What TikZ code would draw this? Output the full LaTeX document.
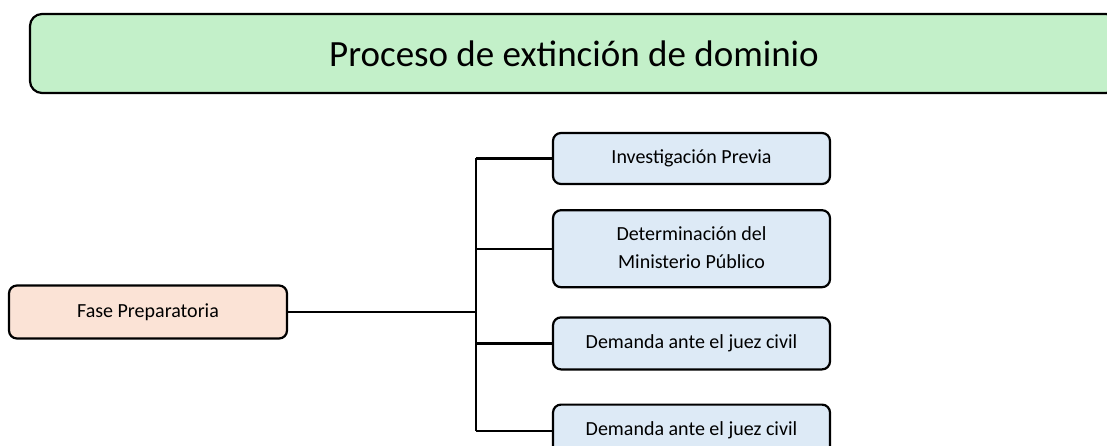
\documentclass[tikz,border=0pt]{standalone}
\usepackage{fontspec}
\setmainfont{Carlito}
\usepackage{tikz}
\usetikzlibrary{positioning, calc}
\definecolor{w_green}{HTML}{C3F0C9}
\definecolor{w_peach}{HTML}{FBE3D6}
\definecolor{w_lightblue}{HTML}{DDEAF6}
\tikzstyle{block} = [rectangle, draw, line width=2.2pt, fill=w_lightblue,
	text centered, rounded corners=8pt, minimum width=277pt, minimum height=52pt,
	font=\fontsize{20}{28}\selectfont]
\tikzstyle{titleblock} = [rectangle, draw, line width=2.2pt, fill=w_green,
	rounded corners=12pt, minimum width=1088pt, minimum height=79pt,
	font=\fontsize{37}{44}\selectfont]
\tikzstyle{link} = [line width=2.2pt]

\begin{document}
\begin{tikzpicture}[x=1pt, y=-1pt, node distance=24pt]
	 \useasboundingbox (0,0) rectangle (1107,446);
	 \clip (0,0) rectangle (1107,446);

	 \node (title) at (574,53.5) [titleblock] {Proceso de extinción de dominio};

	 \node (fase) at (148,312) [block, fill=w_peach, minimum width=278pt, minimum height=53pt] {Fase Preparatoria};

	 \node (previa) at (691.5,158.5) [block, minimum height=51pt] {Investigación Previa};
	 \node[below=24pt of previa] (ministerio) [block, minimum height=77pt] {
		 \begin{tabular}{c}
			 Determinación del \\
			 Ministerio Público
		 \end{tabular}
	 };
	 \node[below=28pt of ministerio] (demanda) [block] {Demanda ante el juez civil};
	 \node[below=33pt of demanda] (demandabis) [block] {Demanda ante el juez civil};

	 \coordinate (bus) at (476,312);
	 \draw[link] (fase.east) -- (bus);
	 \draw[link] (bus|-previa.west) -- (bus|-demandabis.west);
	 \draw[link] (bus|-previa.west) -- (previa.west);
	 \draw[link] (bus|-ministerio.west) -- (ministerio.west);
	 \draw[link] (bus|-demanda.west) -- (demanda.west);
	 \draw[link] (bus|-demandabis.west) -- (demandabis.west);
\end{tikzpicture}
\end{document}
